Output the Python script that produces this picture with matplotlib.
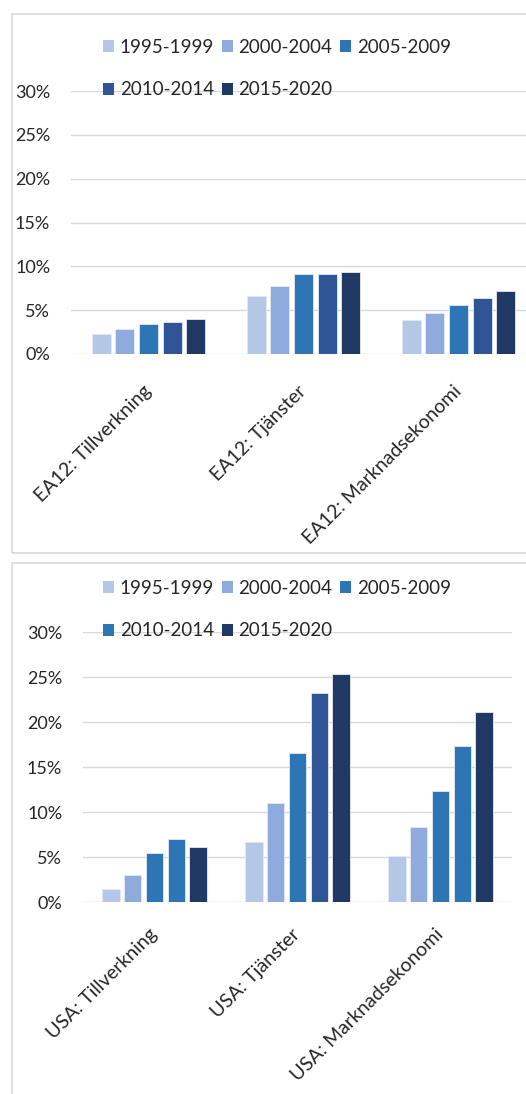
import numpy as np
import matplotlib.pyplot as plt
from matplotlib.patches import Rectangle
from matplotlib.ticker import PercentFormatter, MultipleLocator

plt.rcParams['font.family'] = ['Lato', 'DejaVu Sans']

# ---------------------------
# Data (andel, procent)
# ---------------------------
perioder = ['1995-1999', '2000-2004', '2005-2009', '2010-2014', '2015-2020']
sektorer = ['Tillverkning', 'Tjänster', 'Marknadsekonomi']

ea12 = [
    [2.3, 6.6, 3.9],    # 1995-1999
    [2.8, 7.7, 4.7],    # 2000-2004
    [3.4, 9.1, 5.55],   # 2005-2009
    [3.65, 9.1, 6.4],   # 2010-2014
    [4.0, 9.4, 7.2],    # 2015-2020
]
usa = [
    [1.45, 6.7, 5.15],
    [3.0, 11.0, 8.4],
    [5.5, 16.6, 12.4],
    [7.0, 23.3, 17.4],
    [6.2, 25.4, 21.15],
]

farger = ['#B4C7E7', '#8FAADC', '#2E75B6', '#2F5597', '#203864']
# färg per stapel; USA-diagrammet har en avvikande färg för 2010-2014
farger_ea12 = [[c] * 3 for c in farger]
farger_usa = [[c] * 3 for c in farger]
farger_usa[3] = ['#2E75B6', '#2F5597', '#2E75B6']
legend_farger_usa = ['#B4C7E7', '#8FAADC', '#2E75B6', '#2E75B6', '#203864']

W, H = 526, 1094
fig = plt.figure(figsize=(W / 100, H / 100), dpi=100)


def px_axes(left, top, right, bottom):
    return fig.add_axes([left / W, 1 - bottom / H, (right - left) / W, (bottom - top) / H])


def rita_panel(ax, data, bar_farger, leg_farger, prefix, leg_top, xpad):
    x = np.arange(len(sektorer))
    steg = 0.152
    bredd = 0.122
    handles = []
    for i, serie in enumerate(data):
        pos = x + (i - 2) * steg
        ax.bar(pos, serie, width=bredd, color=bar_farger[i], edgecolor='#E4EAF4',
               linewidth=0.6, zorder=3)
        handles.append(Rectangle((0, 0), 1, 1, facecolor=leg_farger[i], edgecolor='none'))

    ax.set_xlim(-0.5, 2.5)
    ax.set_ylim(0, 30)
    ax.yaxis.set_major_locator(MultipleLocator(5))
    ax.yaxis.set_major_formatter(PercentFormatter(100, decimals=0))
    ax.grid(True, axis='y', color='#D9D9D9', linewidth=1.0, zorder=0)
    ax.set_axisbelow(True)
    for s in ax.spines.values():
        s.set_visible(False)
    ax.tick_params(length=0, labelsize=13, labelcolor='#262626')
    ax.tick_params(axis='y', pad=15)
    ax.set_xticks(x)
    ax.set_xticklabels([f'{prefix}: {s}' for s in sektorer], rotation=45, ha='right',
                       rotation_mode='anchor', va='center', fontsize=14)
    ax.tick_params(axis='x', pad=xpad)

    # radvis ordning i legenden
    ordning = [0, 3, 1, 4, 2]
    ax.legend([handles[k] for k in ordning], [perioder[k] for k in ordning],
              ncol=3, frameon=False, fontsize=13.5, loc='upper left',
              bbox_to_anchor=(103 / W, 1 - leg_top / H), bbox_transform=fig.transFigure,
              borderpad=0, borderaxespad=0, handlelength=0.6, handleheight=0.6,
              handletextpad=0.3, columnspacing=0.4, labelspacing=1.35,
              labelcolor='#262626')


# ram runt panelerna
fig.add_artist(Rectangle((12 / W, 1 - 553 / H), 2, (553 - 14) / H, transform=fig.transFigure,
                         facecolor='none', edgecolor='#D9D9D9', linewidth=1.2))
fig.add_artist(Rectangle((12 / W, -0.2), 2, 0.2 + (H - 563) / H, transform=fig.transFigure,
                         facecolor='none', edgecolor='#D9D9D9', linewidth=1.2))

ax1 = px_axes(71, 91, 536, 354)
rita_panel(ax1, ea12, farger_ea12, farger, 'EA12', 39, 25)

ax2 = px_axes(83, 632.3, 512, 902.3)
rita_panel(ax2, usa, farger_usa, legend_farger_usa, 'USA', 580, 21)

fig.savefig('out.png', dpi=100)
